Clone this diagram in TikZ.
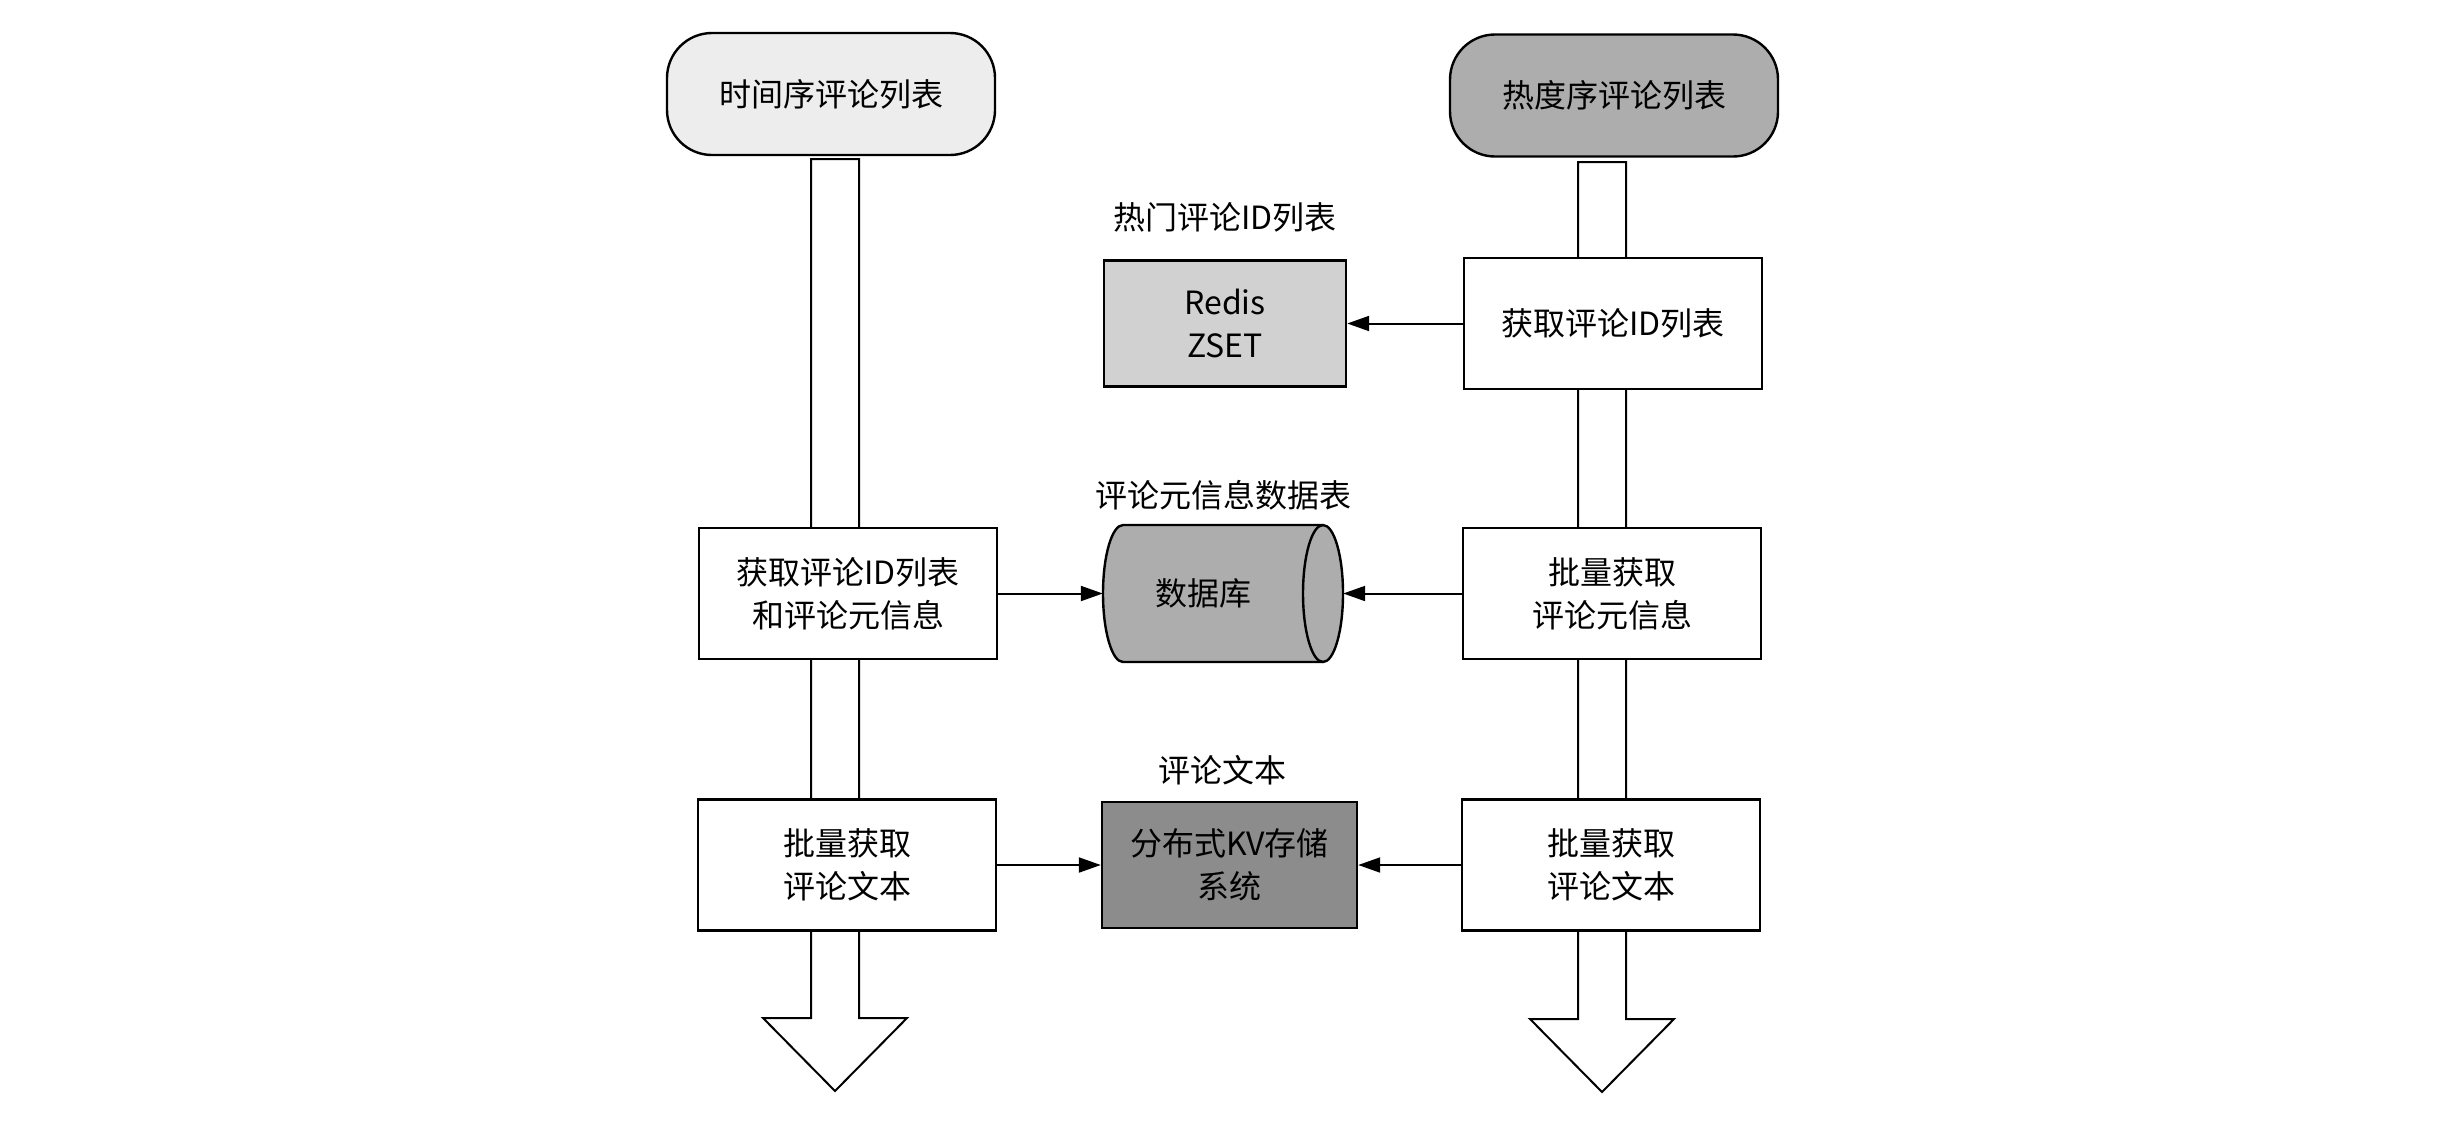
\documentclass[tikz,border=0pt]{standalone}
\usepackage{fontspec}
\setmainfont{Noto Sans CJK SC}
\usetikzlibrary{arrows.meta}
\begin{document}
\begin{tikzpicture}[x=1pt,y=-1pt,
  every node/.style={font=\fontsize{32}{43}\selectfont, inner sep=0pt},
  proc/.style={draw, line width=2.4pt, fill=white, align=center, minimum width=298pt, minimum height=131pt},
  store/.style={draw, line width=2.4pt, align=center, minimum height=126pt},
  term/.style={draw, line width=2.4pt, rounded corners=45pt, align=center, minimum width=328pt, minimum height=122pt},
  bigarrow/.style={draw, line width=2pt, fill=white, line join=miter},
  conn/.style={line width=2pt, -{Triangle[length=22pt,width=15pt]}},
  cyl/.style={draw, line width=2.4pt},
]
\useasboundingbox (0,0) rectangle (2464,1122);

% big flow arrows
\draw[bigarrow] (811,159) -- (859,159) -- (859,1018) -- (907,1018) -- (835,1091) -- (763,1018) -- (811,1018) -- cycle;
\draw[bigarrow] (1578,162) -- (1626,162) -- (1626,1019) -- (1674,1019) -- (1602,1092) -- (1530,1019) -- (1578,1019) -- cycle;

% terminals
\node[term, fill=black!7] (tl) at (831,94) {时间序评论列表};
\node[term, fill=black!32] (tr) at (1614,95.5) {热度序评论列表};

% process boxes
\node[proc] (l1) at (848,593.5) {获取评论ID列表\\和评论元信息};
\node[proc] (l2) at (847,865) {批量获取\\评论文本};
\node[proc] (r1) at (1613,323.5) {获取评论ID列表};
\node[proc] (r2) at (1612,593.5) {批量获取\\评论元信息};
\node[proc] (r3) at (1611,865) {批量获取\\评论文本};

% stores
\node[store, fill=black!18, minimum width=242pt] (redis) at (1225,323.5) {Redis\\ZSET};
\node[store, fill=black!45, minimum width=255pt] (kv) at (1229.5,865) {分布式KV存储\\系统};

% database cylinder
\path[cyl, fill=black!32] (1123,525) -- (1323,525)
  .. controls (1334.05,525) and (1343,555.67) .. (1343,593.5)
  .. controls (1343,631.33) and (1334.05,662) .. (1323,662)
  -- (1123,662)
  .. controls (1111.95,662) and (1103,631.33) .. (1103,593.5)
  .. controls (1103,555.67) and (1111.95,525) .. (1123,525) -- cycle;
\draw[cyl] (1323,525) .. controls (1311.95,525) and (1303,555.67) .. (1303,593.5)
  .. controls (1303,631.33) and (1311.95,662) .. (1323,662);
\node[minimum width=240pt, minimum height=137pt] (db) at (1223,593.5) {};
\node (dbl) at (1203,593.5) {数据库};

% titles
\node (t1) at (1225,217) {热门评论ID列表};
\node (t2) at (1223,495) {评论元信息数据表};
\node (t3) at (1222,770) {评论文本};

% connectors
\draw[conn] (r1.west) -- (redis.east);
\draw[conn] (l1.east) -- (db.west);
\draw[conn] (r2.west) -- (db.east);
\draw[conn] (l2.east) -- (kv.west);
\draw[conn] (r3.west) -- (kv.east);
\end{tikzpicture}
\end{document}
